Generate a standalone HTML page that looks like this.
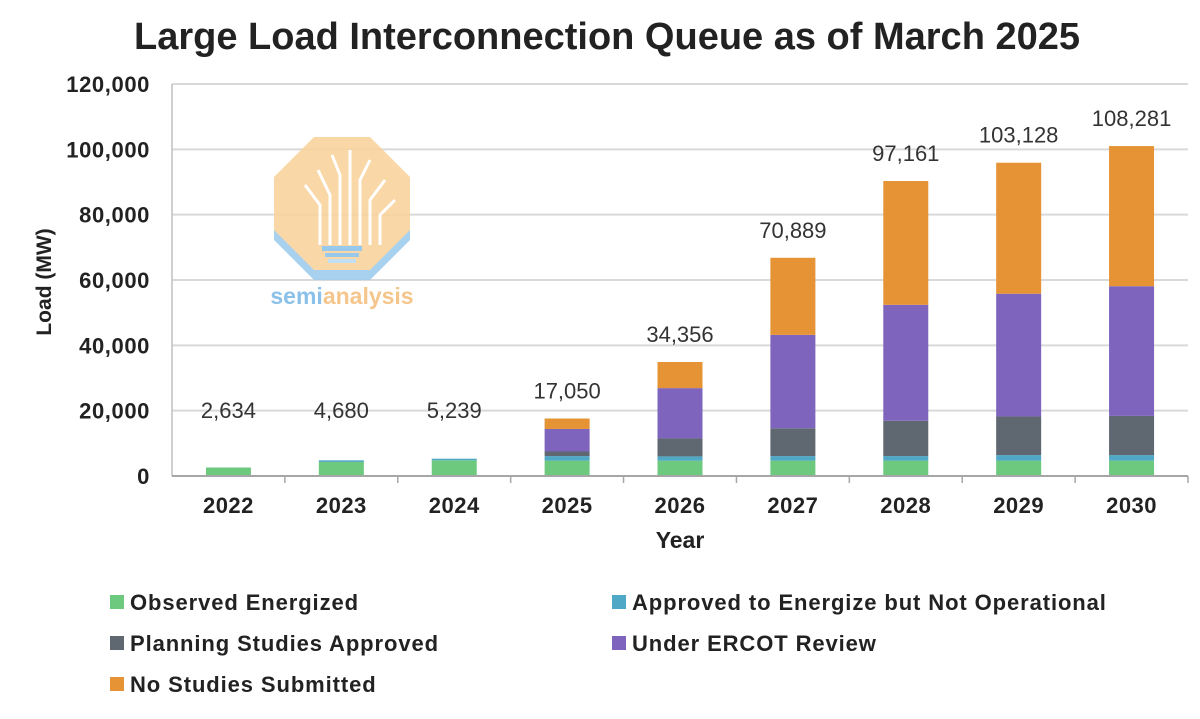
<!DOCTYPE html>
<html><head><meta charset="utf-8"><style>
body{margin:0;background:#fff;width:1200px;height:714px;overflow:hidden;font-family:"Liberation Sans",Arial,sans-serif}
</style></head><body>
<svg width="1200" height="714" xmlns="http://www.w3.org/2000/svg">
<text x="607" y="49" text-anchor="middle" font-size="38" font-weight="bold" fill="#222">Large Load Interconnection Queue as of March 2025</text>
<g id="grid"></g>
<g id="logo" opacity="0.9">
<polygon points="314,145 370,145 410,185 410,240 370,280 314,280 274,240 274,185" fill="#9fcdee"/>
<polygon points="314,137 370,137 410,177 410,230 370,270 314,270 274,230 274,177" fill="#f9d39e"/>
<g stroke="#fff" stroke-width="3" fill="none">
<path d="M320,245 V205 L305,185 M330,245 V195 L318,170 M340,245 V175 L332,155 M350,245 V150 M360,245 V180 L370,160 M370,245 V200 L385,180 M380,245 V215 L395,200"/>
</g>
<rect x="322" y="246" width="40" height="5" fill="#8cc4ea"/><rect x="325" y="253" width="34" height="4" fill="#8cc4ea"/><rect x="328" y="259" width="28" height="4" fill="#bcdcf0"/>
<text x="342" y="304" text-anchor="middle" font-size="23" font-weight="bold" fill="#7fbbe6">semi<tspan fill="#f4c07f">analysis</tspan></text>
</g>
<g id="bars"></g>
<g id="axes"></g>
<text x="680" y="548" text-anchor="middle" font-size="23" font-weight="bold" fill="#222">Year</text>
<text transform="translate(51,282) rotate(-90)" text-anchor="middle" font-size="21" font-weight="bold" fill="#222">Load (MW)</text>
<g id="legend"></g>
</svg>
<script>
const categories=["2022","2023","2024","2025","2026","2027","2028","2029","2030"];
const observedEnergized=[2.6,4.3,4.8,4.7,4.7,4.7,4.7,4.7,4.7];
const approvedNotOperational=[0,0.5,0.5,1.4,1.3,1.4,1.4,1.7,1.7];
const planningApproved=[0,0,0,1.4,5.5,8.5,10.8,11.8,12];
const underReview=[0,0,0,6.9,15.4,28.6,35.5,37.6,39.7];
const noStudies=[0,0,0,3.2,8,23.6,37.9,40.1,42.9];
const totalLabels=["2,634","4,680","5,239","17,050","34,356","70,889","97,161","103,128","108,281"];
const yTicks=[0,20,40,60,80,100,120];
const yTickLabels=["0","20,000","40,000","60,000","80,000","100,000","120,000"];
const seriesNames=["Observed Energized","Approved to Energize but Not Operational","Planning Studies Approved","Under ERCOT Review","No Studies Submitted"];
const colors=["#6cc97e","#4fa8c5","#5f6870","#7e64bd","#e59335"];
const series=[observedEnergized,approvedNotOperational,planningApproved,underReview,noStudies];
const NS="http://www.w3.org/2000/svg";
const x0=172,x1=1188,yBase=476,yTop=84;
const band=(x1-x0)/categories.length;
const y=v=>yBase-(v/120)*(yBase-yTop);
const xc=i=>x0+band*(i+0.5);
function mk(t,a,p){const e=document.createElementNS(NS,t);for(const k in a)e.setAttribute(k,a[k]);p.appendChild(e);return e;}
const grid=document.getElementById('grid'),axes=document.getElementById('axes'),bars=document.getElementById('bars'),leg=document.getElementById('legend');
yTicks.forEach((t,i)=>{
 if(t>0){const l=mk('line',{x1:x0,x2:x1,y1:y(t),y2:y(t),stroke:'#d9d9d9','stroke-width':2},grid);
 
 }
 const tx=mk('text',{x:150,y:y(t)+8,'text-anchor':'end','font-size':22,'letter-spacing':0.6,'font-weight':'bold',fill:'#222'},axes);tx.textContent=yTickLabels[i];
 
 
});
mk('line',{x1:x0,x2:x0,y1:yTop,y2:yBase,stroke:'#bfbfbf','stroke-width':1.5},axes);
const ax=mk('line',{x1:x0,x2:x1,y1:yBase,y2:yBase,stroke:'#a6a6a6','stroke-width':2},axes);


categories.forEach((c,i)=>{
 mk('line',{x1:x0+band*(i+1),x2:x0+band*(i+1),y1:yBase,y2:yBase+7,stroke:'#a6a6a6','stroke-width':1.5},axes);
 const t=mk('text',{x:xc(i),y:513,'text-anchor':'middle','font-size':22,'letter-spacing':0.5,'font-weight':'bold',fill:'#222'},axes);t.textContent=c;
 
 
 let cum=0;
 series.forEach((s,k)=>{
  if(s[i]<=0)return;
  const r=mk('rect',{x:xc(i)-22.5,width:45,y:y(cum+s[i]),height:y(cum)-y(cum+s[i]),fill:colors[k]},bars);
  
  
  cum+=s[i];
 });
 const lab=mk('text',{x:xc(i),y:Math.min(y(cum)-20,418),'text-anchor':'middle','font-size':22,fill:'#333'},bars);lab.textContent=totalLabels[i];
 
 
});
const lpos=[[110,602],[612,602],[110,643],[612,643],[110,684]];
seriesNames.forEach((n,k)=>{
 const g=mk('g',{},leg);
 
 
 mk('rect',{x:lpos[k][0],y:lpos[k][1]-7,width:14,height:14,fill:colors[k]},g);
 const t=mk('text',{x:lpos[k][0]+20,y:lpos[k][1]+8,'font-size':22,'letter-spacing':0.9,'font-weight':'bold',fill:'#222'},g);t.textContent=n;
});
</script>
</body></html>
